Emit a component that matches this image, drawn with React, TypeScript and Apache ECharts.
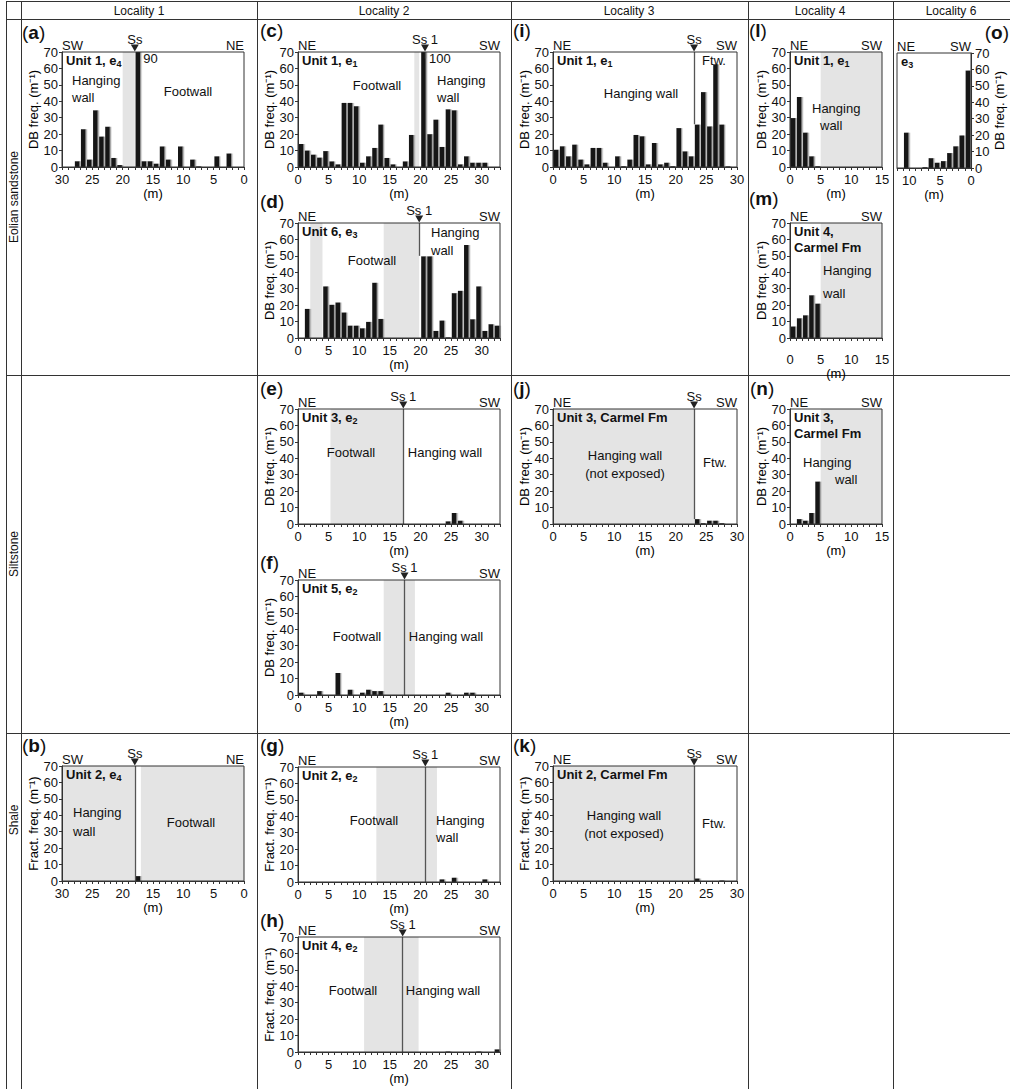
import React, { useEffect, useRef } from "react";
import * as echarts from "echarts";

const FONT = '"Liberation Sans", Arial, Helvetica, sans-serif';
const INK = "#111";
const FRAME = "#333";
const BAND = "#e4e4e4";
const Y_MAX = 70;
const Y_STEP = 10;
const PANEL_H = 115;

const localities = ["Locality 1", "Locality 2", "Locality 3", "Locality 4", "Locality 6"];
const lithologies = ["Eolian sandstone", "Siltstone", "Shale"];
const DB = "DB freq. (m⁻¹)";
const FR = "Fract. freq. (m⁻¹)";

// Deformation-band / fracture frequency per 1 m bin: [bin centre (m), frequency (m^-1)]
const barsA = [[27.5, 3.5], [26.5, 23], [25.5, 4.5], [24.5, 34.5], [23.5, 18.5], [22.5, 24.5], [21.5, 5.5], [20.5, 1.2], [17.5, 90], [16.5, 3.5], [15.5, 3.5], [14.5, 2], [13.5, 12.5], [12.5, 4.5], [10.5, 12.5], [8.5, 4.5], [7.5, 0.4], [4.5, 6.5], [2.5, 8.2]];
const barsB = [[17.5, 3]];
const barsC = [[0.5, 14], [1.5, 10], [2.5, 7.5], [3.5, 5.7], [4.5, 9.7], [5.5, 3.4], [6.5, 1.6], [7.5, 39], [8.5, 39], [9.5, 37], [10.5, 2.6], [11.5, 6.5], [12.5, 11.6], [13.5, 25.8], [14.5, 5.5], [15.5, 1.6], [17.5, 3.4], [18.5, 19.5], [20.5, 100], [21.5, 20], [22.5, 28.8], [23.5, 12.2], [24.5, 35.1], [25.5, 34.5], [26.5, 1.6], [27.5, 6.5], [28.5, 2.6], [29.5, 2.6], [30.5, 2.6]];
const barsD = [[1.5, 17.7], [4.5, 31.4], [5.5, 20.2], [6.5, 21.6], [7.5, 15.5], [8.5, 7.5], [9.5, 7.5], [10.5, 5.9], [11.5, 9.8], [12.5, 33.6], [13.5, 11.6], [20.5, 49.7], [21.5, 49.7], [22.5, 4.3], [23.5, 10.6], [24.5, 0.4], [25.5, 27.3], [26.5, 28.7], [27.5, 56.6], [28.5, 11.4], [29.5, 31.4], [30.5, 4.3], [31.5, 8.4], [32.5, 7.5]];
const barsE = [[24.5, 1.6], [25.5, 6.7], [26.5, 2]];
const barsF = [[0.5, 1.4], [3.5, 2.4], [6.5, 13.4], [8.5, 3.2], [10.5, 1.4], [11.5, 3.2], [12.5, 2.4], [13.5, 2.4], [24.5, 1.4], [27.5, 1.4], [28.5, 1.4]];
const barsG = [[23.5, 1.6], [25.5, 2.6], [30.5, 1.6]];
const barsH = [[24.5, 0.3], [29.5, 0.3], [32.5, 1.6]];
const barsI = [[0.5, 10.5], [1.5, 12.6], [2.5, 6.5], [3.5, 13.6], [4.5, 4.5], [5.5, 1.6], [6.5, 11.6], [7.5, 11.6], [8.5, 2.6], [10.5, 6.5], [11.5, 0.5], [12.5, 4.5], [13.5, 19.5], [14.5, 18.7], [15.5, 1.6], [16.5, 14.6], [17.5, 1.6], [18.5, 2.6], [19.5, 0.5], [20.5, 23.7], [21.5, 9.5], [22.5, 6.5], [23.5, 25.8], [24.5, 45.6], [25.5, 24.7], [26.5, 62.5], [27.5, 25.8], [28.5, 0.4]];
const barsJ = [[23.5, 3], [24.5, 0.5], [25.5, 2], [26.5, 2], [27.5, 0.5]];
const barsK = [[23.5, 1.5], [27.5, 0.3]];
const barsL = [[0.5, 29.8], [1.5, 42.6], [2.5, 20.9], [3.5, 6.5], [4.5, 0.5]];
const barsM = [[0.5, 7], [1.5, 12], [2.5, 13.8], [3.5, 26], [4.5, 20.9]];
const barsN = [[1.5, 3], [2.5, 2], [3.5, 6.7], [4.5, 25.8]];
const barsO = [[10.5, 21.5], [7.5, 0.5], [6.5, 6], [5.5, 3.2], [4.5, 4.2], [3.5, 9.1], [2.5, 13.2], [1.5, 19.8], [0.5, 59.3]];

// Shaded intervals along each section (m)
const bandsA = [[18, 20]];
const bandsB = [[0, 17], [18, 30]];
const bandsC = [[19, 19.8]];
const bandsD = [[2, 4], [14, 19.8]];
const bandsE = [[5.3, 17.2]];
const bandsF = [[14, 19.1]];
const bandsG = [[12.8, 22.7]];
const bandsH = [[10.8, 19.7]];
const bandsJ = [[0, 23]];
const bandsK = [[0, 23]];
const bandsL = [[5, 15]];
const bandsM = [[5, 15]];
const bandsN = [[5, 15]];

// Slip-surface position (m), its name, and how far down the trace is drawn
const faultA = { x: 18, label: "Ss", bottom: Y_MAX };
const faultB = { x: 18, label: "Ss", bottom: 0 };
const faultC = { x: 20.75, label: "Ss 1", bottom: 66 };
const faultD = { x: 19.8, label: "Ss 1", bottom: 50 };
const faultE = { x: 17.2, label: "Ss 1", bottom: 0 };
const faultF = { x: 17.4, label: "Ss 1", bottom: 0 };
const faultG = { x: 20.8, label: "Ss 1", bottom: 0 };
const faultH = { x: 17.1, label: "Ss 1", bottom: 0 };
const faultI = { x: 23, label: "Ss", bottom: 26 };
const faultJ = { x: 23, label: "Ss", bottom: 3 };
const faultK = { x: 23, label: "Ss", bottom: 0 };

type Note = [string, number, number, "left" | "center" | "right"];
type Panel = {
  letter: string; lx: number; ly: number; lAlign?: "left" | "right";
  left: number; top: number; width: number; xMax: number; inverse?: boolean; yRight?: boolean;
  yName: string; dirs: [string, string]; unit: [string, string];
  bars: number[][]; bands: number[][]; fault?: { x: number; label: string; bottom: number };
  notes: Note[]; labelMargin?: number; nameGap?: number;
};

const panels: Panel[] = [
  { letter: "a", lx: 22, ly: 32, left: 62, top: 52, width: 182, xMax: 30, inverse: true, yName: DB, dirs: ["SW", "NE"], unit: ["Unit 1, e", "4"], bars: barsA, bands: bandsA, fault: faultA,
    notes: [["Hanging", 10, 28, "left"], ["wall", 10, 45, "left"], ["Footwall", 126, 39, "center"]] },
  { letter: "b", lx: 22, ly: 745, left: 62, top: 766, width: 182, xMax: 30, inverse: true, yName: FR, dirs: ["SW", "NE"], unit: ["Unit 2, e", "4"], bars: barsB, bands: bandsB, fault: faultB,
    notes: [["Hanging", 11, 46, "left"], ["wall", 11, 65, "left"], ["Footwall", 129, 56, "center"]] },
  { letter: "c", lx: 260, ly: 30, left: 298, top: 52, width: 202, xMax: 33, yName: DB, dirs: ["NE", "SW"], unit: ["Unit 1, e", "1"], bars: barsC, bands: bandsC, fault: faultC,
    notes: [["Footwall", 79, 33, "center"], ["Hanging", 139, 28, "left"], ["wall", 139, 45, "left"]] },
  { letter: "d", lx: 260, ly: 201, left: 298, top: 223, width: 202, xMax: 33, yName: DB, dirs: ["NE", "SW"], unit: ["Unit 6, e", "3"], bars: barsD, bands: bandsD, fault: faultD,
    notes: [["Footwall", 74, 37, "center"], ["Hanging", 133, 9, "left"], ["wall", 133, 27, "left"]] },
  { letter: "e", lx: 260, ly: 388, left: 298, top: 409, width: 202, xMax: 33, yName: DB, dirs: ["NE", "SW"], unit: ["Unit 3, e", "2"], bars: barsE, bands: bandsE, fault: faultE,
    notes: [["Footwall", 53, 43, "center"], ["Hanging wall", 147, 43, "center"]] },
  { letter: "f", lx: 260, ly: 562, left: 298, top: 580, width: 202, xMax: 33, yName: DB, dirs: ["NE", "SW"], unit: ["Unit 5, e", "2"], bars: barsF, bands: bandsF, fault: faultF,
    notes: [["Footwall", 59, 56, "center"], ["Hanging wall", 148, 56, "center"]] },
  { letter: "g", lx: 260, ly: 745, left: 298, top: 767, width: 202, xMax: 33, yName: FR, dirs: ["NE", "SW"], unit: ["Unit 2, e", "2"], bars: barsG, bands: bandsG, fault: faultG,
    notes: [["Footwall", 76, 53, "center"], ["Hanging", 138, 53, "left"], ["wall", 138, 70, "left"]] },
  { letter: "h", lx: 260, ly: 920, left: 298, top: 937, width: 202, xMax: 33, yName: FR, dirs: ["NE", "SW"], unit: ["Unit 4, e", "2"], bars: barsH, bands: bandsH, fault: faultH,
    notes: [["Footwall", 55, 53, "center"], ["Hanging wall", 145, 53, "center"]] },
  { letter: "i", lx: 513, ly: 30, left: 553, top: 52, width: 184, xMax: 30, yName: DB, dirs: ["NE", "SW"], unit: ["Unit 1, e", "1"], bars: barsI, bands: [], fault: faultI,
    notes: [["Hanging wall", 88, 41, "center"], ["Ftw.", 161, 8, "center"]] },
  { letter: "j", lx: 513, ly: 388, left: 553, top: 409, width: 184, xMax: 30, yName: DB, dirs: ["NE", "SW"], unit: ["Unit 3, Carmel Fm", ""], bars: barsJ, bands: bandsJ, fault: faultJ,
    notes: [["Hanging wall", 72, 46, "center"], ["(not exposed)", 72, 64, "center"], ["Ftw.", 162, 53, "center"]] },
  { letter: "k", lx: 513, ly: 745, left: 553, top: 766, width: 184, xMax: 30, yName: FR, dirs: ["NE", "SW"], unit: ["Unit 2, Carmel Fm", ""], bars: barsK, bands: bandsK, fault: faultK,
    notes: [["Hanging wall", 71, 49, "center"], ["(not exposed)", 71, 67, "center"], ["Ftw.", 161, 57, "center"]] },
  { letter: "l", lx: 749, ly: 30, left: 790, top: 52, width: 92, xMax: 15, yName: DB, dirs: ["NE", "SW"], unit: ["Unit 1, e", "1"], bars: barsL, bands: bandsL,
    notes: [["Hanging", 22, 56, "left"], ["wall", 30, 73, "left"]] },
  { letter: "m", lx: 749, ly: 198, left: 790, top: 223, width: 92, xMax: 15, yName: DB, dirs: ["NE", "SW"], unit: ["Unit 4,\nCarmel Fm", ""], bars: barsM, bands: bandsM,
    notes: [["Hanging", 33, 47, "left"], ["wall", 33, 70, "left"]], labelMargin: 15, nameGap: 20 },
  { letter: "n", lx: 750, ly: 388, left: 790, top: 409, width: 92, xMax: 15, yName: DB, dirs: ["NE", "SW"], unit: ["Unit 3,\nCarmel Fm", ""], bars: barsN, bands: bandsN,
    notes: [["Hanging", 13, 53, "left"], ["wall", 45, 70, "left"]] },
  { letter: "o", lx: 1009, ly: 32, lAlign: "right", left: 897, top: 53, width: 74, xMax: 12, inverse: true, yRight: true, yName: DB, dirs: ["NE", "SW"], unit: ["e", "3"], bars: barsO, bands: [],
    notes: [] },
];

const font = (size: number, bold = false) => `${bold ? "bold " : ""}${size}px ${FONT}`;

function text(x: number, y: number, t: string, size: number, align: string, vAlign = "middle", bold = false, extra: any = {}) {
  return { type: "text", x, y, z: 30, silent: true, style: { text: t, font: font(size, bold), fill: INK, align, verticalAlign: vAlign }, ...extra };
}

function buildOption() {
  const grid: any[] = [];
  const xAxis: any[] = [];
  const yAxis: any[] = [];
  const series: any[] = [];
  const elements: any[] = [];

  // table rules
  const vLines = [6, 21, 257, 511, 748, 893];
  vLines.forEach((x) => elements.push({ type: "line", silent: true, z: 1, shape: { x1: x + 0.5, y1: 1, x2: x + 0.5, y2: 1089 }, style: { stroke: FRAME, lineWidth: 1 } }));
  [1, 19, 375, 733].forEach((y) => elements.push({ type: "line", silent: true, z: 1, shape: { x1: 6, y1: y + 0.5, x2: 1010, y2: y + 0.5 }, style: { stroke: FRAME, lineWidth: 1 } }));
  const headCentres = [139, 384, 629, 820, 951];
  localities.forEach((t, i) => elements.push(text(headCentres[i], 10.5, t, 12, "center")));
  const rowCentres = [197, 554, 820];
  lithologies.forEach((t, i) => elements.push(text(14, rowCentres[i], t, 12, "center", "middle", false, { rotation: Math.PI / 2 })));

  panels.forEach((p, i) => {
    grid.push({ left: p.left, top: p.top, width: p.width, height: PANEL_H, show: true, z: 10, borderColor: FRAME, borderWidth: 1, backgroundColor: "rgba(0,0,0,0)" });
    xAxis.push({
      gridIndex: i, type: "value", min: 0, max: p.xMax, interval: 1, inverse: !!p.inverse, z: 10,
      axisLine: { show: true, onZero: false, lineStyle: { color: FRAME, width: 1 } },
      axisTick: { show: true, length: 3, lineStyle: { color: FRAME } },
      axisLabel: { formatter: (v: number) => (Math.round(v) % 5 === 0 ? String(Math.round(v)) : ""), fontSize: 13, color: INK, fontFamily: FONT, margin: p.labelMargin ?? 6 },
      splitLine: { show: false },
      name: "(m)", nameLocation: "middle", nameGap: p.nameGap ?? 18,
      nameTextStyle: { fontSize: 13, color: "#000", fontFamily: FONT },
    });
    yAxis.push({
      gridIndex: i, type: "value", min: 0, max: Y_MAX, interval: Y_STEP, position: p.yRight ? "right" : "left", z: 10,
      axisLine: { show: true, onZero: false, lineStyle: { color: FRAME, width: 1 } },
      axisTick: { show: true, length: 3, lineStyle: { color: FRAME } },
      axisLabel: { fontSize: 13, color: INK, fontFamily: FONT, margin: 4 },
      splitLine: { show: false },
      name: p.yName, nameLocation: "middle", nameGap: p.yRight ? 20 : 22, nameRotate: 90,
      nameTextStyle: { fontSize: 13, color: "#000", fontFamily: FONT },
    });

    const marks: any[] = [];
    if (p.fault) {
      marks.push({
        coord: [p.fault.x, Y_MAX], name: p.fault.label, symbol: "triangle", symbolRotate: 180, symbolSize: [8, 7], symbolOffset: [0, -4],
        itemStyle: { color: "#222" },
        label: { show: true, position: "top", distance: -1, formatter: p.fault.label, color: INK, fontSize: 13, fontFamily: FONT },
      });
    }
    p.bars.filter((b) => b[1] > Y_MAX).forEach(([x, v]) => {
      marks.push({
        coord: [x, Y_MAX - 4], value: v, symbol: "rect", symbolSize: 1, itemStyle: { color: "rgba(0,0,0,0)" },
        label: { show: true, position: "right", distance: 5, formatter: String(v), color: INK, fontSize: 13, fontFamily: FONT },
      });
    });

    series.push({
      type: "bar", xAxisIndex: i, yAxisIndex: i, data: p.bars, barWidth: 4.6, clip: true,
      itemStyle: { color: "#161616", shadowColor: "#9a9a9a", shadowOffsetX: 1.3, shadowOffsetY: 0, shadowBlur: 0 },
      markArea: { silent: true, label: { show: false }, itemStyle: { color: BAND }, data: p.bands.map(([a, b]) => [{ xAxis: a }, { xAxis: b }]) },
      markLine: p.fault && p.fault.bottom < Y_MAX
        ? { silent: true, symbol: ["none", "none"], label: { show: false }, lineStyle: { color: "#555", width: 1.3, type: "solid" },
            data: [[{ coord: [p.fault.x, Y_MAX] }, { coord: [p.fault.x, p.fault.bottom] }]] }
        : undefined,
      markPoint: marks.length ? { silent: true, data: marks } : undefined,
    });

    // direction labels above the frame
    elements.push(text(p.left, p.top - 0.5, p.dirs[0], 13, "left", "bottom"));
    elements.push(text(p.left + p.width, p.top - 0.5, p.dirs[1], 13, "right", "bottom"));

    // unit label, with subscript
    const [main, sub] = p.unit;
    const rich = main.split("\n").map((s) => `{b|${s}}`).join("\n") + (sub ? `{s|${sub}}` : "");
    elements.push({
      type: "text", x: p.left + 4, y: p.top, z: 30, silent: true,
      style: {
        text: rich, align: "left", verticalAlign: "top",
        rich: {
          b: { font: font(13, true), fill: INK, lineHeight: 16 },
          s: { font: font(9, true), fill: INK, lineHeight: 8, verticalAlign: "bottom" },
        },
      },
    });

    p.notes.forEach(([t, dx, dy, al]) => elements.push(text(p.left + dx, p.top + dy, t, 13, al)));

    // panel letter
    elements.push({
      type: "text", x: p.lx, y: p.ly, z: 30, silent: true,
      style: {
        text: `{p|(}{l|${p.letter}}{p|)}`, align: p.lAlign ?? "left", verticalAlign: "middle",
        rich: { p: { font: font(19), fill: INK }, l: { font: font(19, true), fill: INK } },
      },
    });
  });

  return {
    animation: false,
    backgroundColor: "#fff",
    textStyle: { fontFamily: FONT },
    grid, xAxis, yAxis, series,
    graphic: { elements },
  };
}

export default function App() {
  const ref = useRef<HTMLDivElement>(null);
  useEffect(() => {
    if (!ref.current) return;
    const chart = echarts.init(ref.current, null, { renderer: "svg" });
    chart.setOption(buildOption() as any);
    return () => chart.dispose();
  }, []);
  return <div ref={ref} style={{ position: "absolute", left: 0, top: 0, width: 1010, height: 1089, background: "#fff" }} />;
}
